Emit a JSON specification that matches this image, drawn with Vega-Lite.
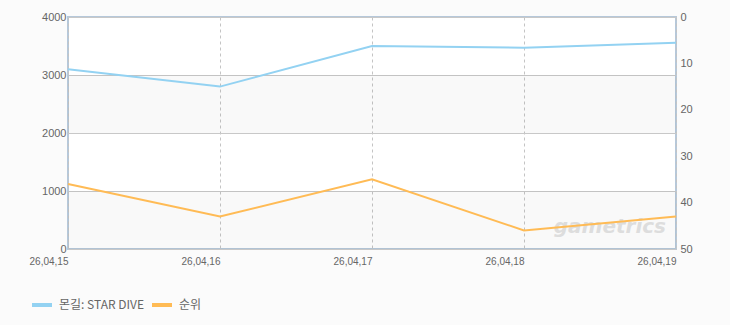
{
  "$schema": "https://vega.github.io/schema/vega-lite/v6.json",
  "autosize": "none",
  "width": 608,
  "height": 232,
  "padding": {"left": 68, "top": 17, "right": 54, "bottom": 76},
  "background": "#fbfbfb",
  "config": {
    "font": "Liberation Sans",
    "view": {"fill": "white", "stroke": "#b6c8da", "strokeWidth": 2},
    "axis": {"labelColor": "#666666", "labelFontSize": 11, "labelFont": "Liberation Sans", "domain": false, "ticks": false, "title": null}
  },
  "datasets": {
    "series": [
      {"date": "26,04,15", "series": "몬길: STAR DIVE", "value": 3100},
      {"date": "26,04,16", "series": "몬길: STAR DIVE", "value": 2800},
      {"date": "26,04,17", "series": "몬길: STAR DIVE", "value": 3500},
      {"date": "26,04,18", "series": "몬길: STAR DIVE", "value": 3470},
      {"date": "26,04,19", "series": "몬길: STAR DIVE", "value": 3555},
      {"date": "26,04,15", "series": "순위", "value": 36},
      {"date": "26,04,16", "series": "순위", "value": 43},
      {"date": "26,04,17", "series": "순위", "value": 35},
      {"date": "26,04,18", "series": "순위", "value": 46},
      {"date": "26,04,19", "series": "순위", "value": 43}
    ],
    "bands": [
      {"lo": 2000, "hi": 3000},
      {"lo": 0, "hi": 1000}
    ],
    "mark": [
      {"date": "26,04,19", "value": 380, "label": "gametrics"}
    ]
  },
  "layer": [
    {
      "data": {"name": "bands"},
      "mark": {"type": "rect", "fill": "#000000", "fillOpacity": 0.022},
      "encoding": {
        "y": {"field": "lo", "type": "quantitative", "scale": {"domain": [0, 4000]}, "axis": null},
        "y2": {"field": "hi"}
      }
    },
    {
      "data": {"name": "mark"},
      "mark": {"type": "text", "font": "DejaVu Sans", "fontSize": 20, "fontWeight": "bold", "fontStyle": "italic", "align": "right", "baseline": "middle", "dx": -10, "color": "#dddddd"},
      "encoding": {
        "x": {"field": "date", "type": "ordinal", "scale": {"type": "point", "padding": 0}},
        "y": {"field": "value", "type": "quantitative", "scale": {"domain": [0, 4000]}, "axis": null},
        "text": {"field": "label"}
      }
    },
    {
      "data": {"name": "series"},
      "transform": [{"filter": "datum.series === '몬길: STAR DIVE'"}],
      "mark": {"type": "line", "strokeWidth": 2},
      "encoding": {
        "x": {
          "field": "date", "type": "ordinal",
          "scale": {"type": "point", "padding": 0},
          "axis": {"labelAngle": 0, "labelFontSize": 10, "labelBaseline": "top", "grid": true, "gridDash": [3, 3], "gridColor": "#c4c4c4", "labelPadding": 7}
        },
        "y": {
          "field": "value", "type": "quantitative",
          "scale": {"domain": [0, 4000]},
          "axis": {"orient": "left", "values": [0, 1000, 2000, 3000, 4000], "format": "d", "grid": true, "gridColor": "#c8c8c8", "labelPadding": 2, "labelBaseline": "alphabetic", "labelOffset": 3}
        },
        "color": {
          "field": "series", "type": "nominal",
          "scale": {"domain": ["몬길: STAR DIVE", "순위"], "range": ["#93d2f2", "#ffbb55"]},
          "legend": {
            "title": null, "orient": "none", "direction": "horizontal", "legendX": -38, "legendY": 276,
            "symbolType": "stroke", "symbolSize": 400, "symbolStrokeWidth": 4, "labelOffset": 5,
            "labelFontSize": 12, "labelColor": "#666666", "labelFont": "Noto Sans CJK KR", "columnPadding": 0
          }
        }
      }
    },
    {
      "data": {"name": "series"},
      "transform": [{"filter": "datum.series === '순위'"}],
      "mark": {"type": "line", "strokeWidth": 2},
      "encoding": {
        "x": {"field": "date", "type": "ordinal", "scale": {"type": "point", "padding": 0}},
        "y": {
          "field": "value", "type": "quantitative",
          "scale": {"domain": [0, 50], "reverse": true},
          "axis": {"orient": "right", "values": [0, 10, 20, 30, 40, 50], "grid": false, "labelPadding": 4, "labelBaseline": "alphabetic", "labelOffset": 3}
        },
        "color": {"field": "series", "type": "nominal"}
      }
    }
  ],
  "resolve": {"scale": {"y": "independent"}}
}
